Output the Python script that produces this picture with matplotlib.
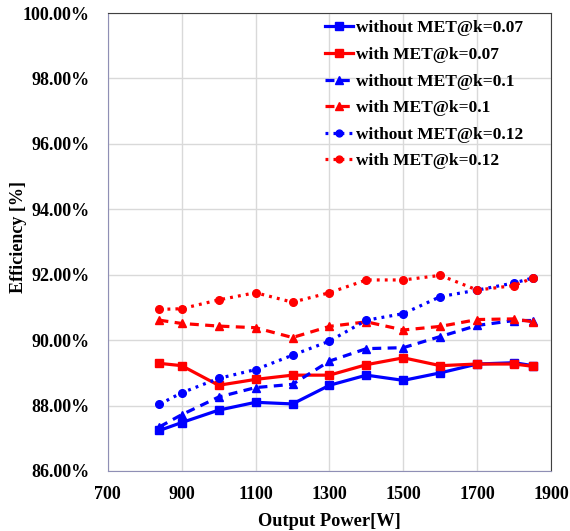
import matplotlib
matplotlib.use("Agg")
import matplotlib.pyplot as plt
from matplotlib.ticker import FuncFormatter

plt.rcParams["font.family"] = ["Liberation Serif", "DejaVu Serif"]
plt.rcParams["font.weight"] = "bold"

power = [840, 900, 1000, 1100, 1200, 1300, 1400, 1500, 1600, 1700, 1800, 1850]

wo_007 = [87.24, 87.48, 87.86, 88.10, 88.05, 88.62, 88.93, 88.77, 89.00, 89.27, 89.31, 89.22]
w_007 = [89.29, 89.22, 88.62, 88.80, 88.93, 88.93, 89.25, 89.46, 89.22, 89.27, 89.27, 89.20]
wo_01 = [87.35, 87.72, 88.26, 88.55, 88.65, 89.36, 89.74, 89.77, 90.11, 90.45, 90.60, 90.60]
w_01 = [90.61, 90.51, 90.43, 90.38, 90.08, 90.42, 90.56, 90.31, 90.42, 90.63, 90.65, 90.56]
wo_012 = [88.04, 88.39, 88.83, 89.10, 89.54, 89.97, 90.61, 90.81, 91.33, 91.53, 91.75, 91.90]
w_012 = [90.94, 90.96, 91.23, 91.45, 91.16, 91.45, 91.84, 91.84, 91.98, 91.53, 91.67, 91.90]

# label, values, colour, dash pattern, marker, marker size
series = [
    ("without MET@k=0.07", wo_007, "#0000ff", "-", "s", 5.8),
    ("with MET@k=0.07", w_007, "#ff0000", "-", "s", 5.8),
    ("without MET@k=0.1", wo_01, "#0000ff", (0, (2.8, 2.0)), "^", 6),
    ("with MET@k=0.1", w_01, "#ff0000", (0, (2.8, 2.0)), "^", 6),
    ("without MET@k=0.12", wo_012, "#0000ff", (0, (0.9, 1.6)), "o", 5.5),
    ("with MET@k=0.12", w_012, "#ff0000", (0, (0.9, 1.6)), "o", 5.5),
]

fig = plt.figure(figsize=(5.70, 5.31), dpi=100)
ax = fig.add_axes([0.189, 0.113, 0.778, 0.8625])

for label, vals, color, ls, mk, ms in series:
    ax.plot(power, vals, color=color, linestyle=ls, marker=mk, linewidth=2.3,
            markersize=ms, label=label)

ax.set_xlim(700, 1900)
ax.set_ylim(86, 100)
ax.set_xticks(range(700, 1901, 200))
ax.set_yticks(range(86, 101, 2))
ax.yaxis.set_major_formatter(FuncFormatter(lambda v, p: f"{v:.2f}%"))
ax.grid(True, color="#d9d9d9", linewidth=1)
ax.set_axisbelow(True)
ax.tick_params(length=0, labelsize=13)
ax.tick_params(axis="x", pad=11)
ax.tick_params(axis="y", pad=13)
for lab in ax.get_xticklabels() + ax.get_yticklabels():
    lab.set_fontweight("bold")

for s in ["left", "bottom"]:
    ax.spines[s].set_color("#8f8fb5")
for s in ["top", "right"]:
    ax.spines[s].set_color("#404040")

ax.set_xlabel("Output Power[W]", fontsize=13.2, fontweight="bold", labelpad=7)
ax.set_ylabel("Efficiency [%]", fontsize=13, fontweight="bold")
ax.yaxis.set_label_coords(-0.183, 0.51)

ax.legend(loc="upper left", bbox_to_anchor=(0.49, 0.984), frameon=False,
          prop={"size": 12.5, "weight": "bold"}, handlelength=1.6,
          handletextpad=0.2, labelspacing=0.6, borderpad=0,
          borderaxespad=0, markerscale=0.9)

fig.savefig("out.png", dpi=100)
